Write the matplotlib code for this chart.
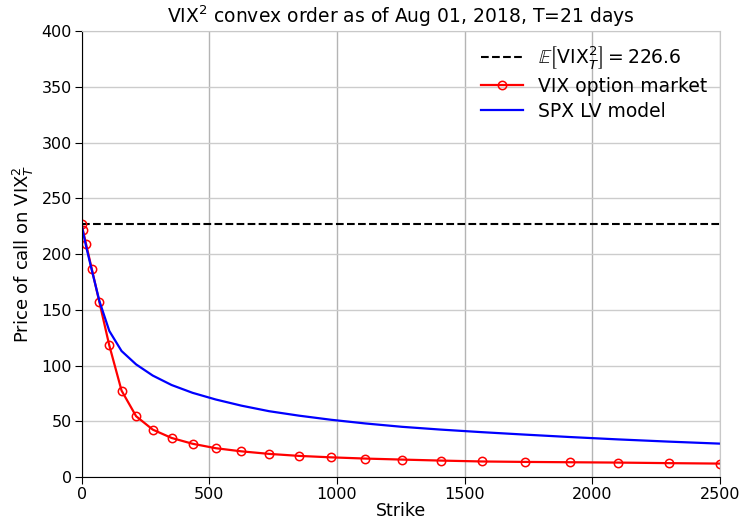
import matplotlib
matplotlib.use("Agg")
import matplotlib.pyplot as plt

# Strikes on VIX^2 and call prices
strikes = [0, 4, 17, 39, 69, 108, 156, 213, 278, 352, 434, 525, 625,
           734, 851, 977, 1111, 1254, 1406, 1567, 1736, 1914, 2101, 2300, 2500]
market_calls = [226.6, 222, 209, 187, 157, 118, 77.5, 54.5, 42.5, 35, 29.8, 25.8, 23,
                20.7, 18.9, 17.6, 16.5, 15.6, 14.7, 13.9, 13.5, 13.2, 12.9, 12.4, 12.0]
lv_calls = [226.6, 221, 207, 186, 158, 131, 113, 101, 91, 82.5, 75.5, 69.5, 64,
            59, 55, 51.3, 48, 45, 42.5, 40.2, 38, 35.8, 33.7, 31.7, 29.9]
expected_vix2 = 226.6

fig = plt.figure(figsize=(7.43, 5.19), dpi=100)
ax = fig.add_axes([0.110, 0.081, 0.859, 0.859])

ax.axhline(expected_vix2, color='black', ls='--', lw=1.5,
           label=r'$\mathbb{E}\left[\mathrm{VIX}_T^2\right] = %.1f$' % expected_vix2)
ax.plot(strikes, market_calls, color='red', lw=1.6, marker='o', ms=6,
        mfc='none', mec='red', mew=1.1, label='VIX option market')
ax.plot(strikes, lv_calls, color='blue', lw=1.6, label='SPX LV model')

ax.set_xlim(0, 2500)
ax.set_ylim(0, 400)
ax.set_xticks([0, 500, 1000, 1500, 2000, 2500])
ax.set_yticks(range(0, 401, 50))
ax.grid(True, axis='y', color='#cccccc', lw=1)
ax.grid(True, axis='x', color='#b4b4b4', lw=1)
ax.set_axisbelow(True)
for s in ['top', 'right']:
    ax.spines[s].set_color('#c8c8c8')
ax.tick_params(labelsize=11.5, length=5, pad=2)

ax.set_title(r'$\mathrm{VIX}^2$ convex order as of Aug 01, 2018, T=21 days', fontsize=13.5)
ax.set_xlabel('Strike', fontsize=12.5, labelpad=0)
ax.set_ylabel(r'Price of call on $\mathrm{VIX}_T^2$', fontsize=13, labelpad=4)

ax.legend(loc='upper right', frameon=False, fontsize=13.5, handlelength=2.2,
          borderaxespad=0.3, labelspacing=0.3)

fig.savefig('out.png', dpi=100)
